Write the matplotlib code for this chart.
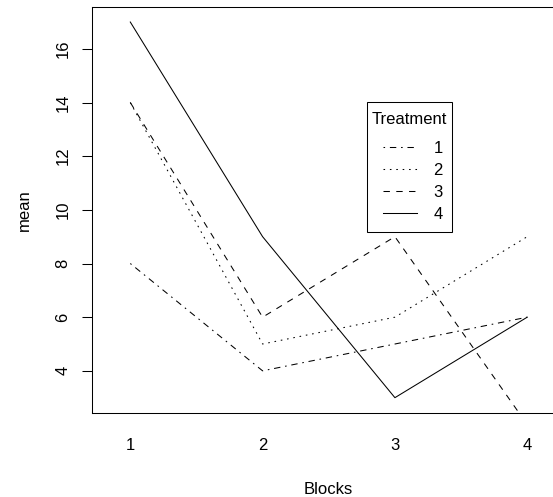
import matplotlib
matplotlib.use("Agg")
import matplotlib.pyplot as plt

# cell means of the response by block, one list per treatment
blocks = [1, 2, 3, 4]
block_labels = ["1", "2", "3", "4"]
treatments = ["1", "2", "3", "4"]
treat1 = [8, 4, 5, 6]
treat2 = [14, 5, 6, 9]
treat3 = [14, 6, 9, 2]
treat4 = [17, 9, 3, 6]
yticks = [4, 6, 8, 10, 12, 14, 16]

plt.rcParams['font.family'] = ['Liberation Sans', 'DejaVu Sans']
plt.rcParams['font.size'] = 12
plt.rcParams['lines.scale_dashes'] = False

W, H = 553, 497
fig = plt.figure(figsize=(W / 100, H / 100), dpi=100)

# plot region in pixels (right edge runs past the canvas)
left, right, top, bottom = 92.3, 564.0, 7.0, 412.7
ax = fig.add_axes([left / W, (H - bottom) / H, (right - left) / W, (bottom - top) / H])

u = 1.15  # dash unit in points
styles = [
    (0, (u, 3 * u, 4 * u, 3 * u)),  # dotdash
    (0, (u, 3 * u)),                # dotted
    (0, (4 * u, 4 * u)),            # dashed
    '-',
]
series = [treat1, treat2, treat3, treat4]
for vals, ls, name in zip(series, styles, treatments):
    ax.plot(blocks, vals, color='black', lw=0.75, linestyle=ls, label=name)

ax.set_xlim(0.7128, 4.278)
ax.set_ylim(2.44, 17.56)

for s in ax.spines.values():
    s.set_linewidth(0.75)
    s.set_color('black')
ax.spines['right'].set_visible(False)

ax.set_xticks(blocks)
ax.set_xticklabels(block_labels)
ax.tick_params(axis='x', length=0, pad=18)
ax.set_yticks(yticks)
ax.set_yticklabels([str(v) for v in yticks])
ax.tick_params(axis='y', length=7.2, width=0.75, pad=8.6, labelrotation=90)
for t in ax.get_yticklabels():
    t.set_va('center')

ax.set_xlabel('Blocks')
ax.xaxis.label.set_va('center')
ax.xaxis.set_label_coords(0.5, -(489 - bottom) / (bottom - top))
ax.set_ylabel('mean')
ax.yaxis.label.set_va('center')
ax.yaxis.set_label_coords(-(left - 24) / (right - left), 0.5)

leg = ax.legend(title='Treatment', loc='upper left',
                bbox_to_anchor=(367 / W, 1 - 102 / H), bbox_transform=fig.transFigure,
                borderaxespad=0, frameon=True, fancybox=False, shadow=False,
                handlelength=2.0, handletextpad=1.0, labelspacing=0.42,
                borderpad=0.3, fontsize=12, title_fontsize=12, alignment='right')
leg.get_frame().set_edgecolor('black')
leg.get_frame().set_linewidth(0.75)
leg.get_frame().set_alpha(None)
# more room around the entries; title sits a little lower in its slot
leg._legend_handle_box.pad = 3.4
leg._legend_box.sep = 10.2
leg.get_title().set_y(-5)

fig.savefig('out.png', dpi=100)
